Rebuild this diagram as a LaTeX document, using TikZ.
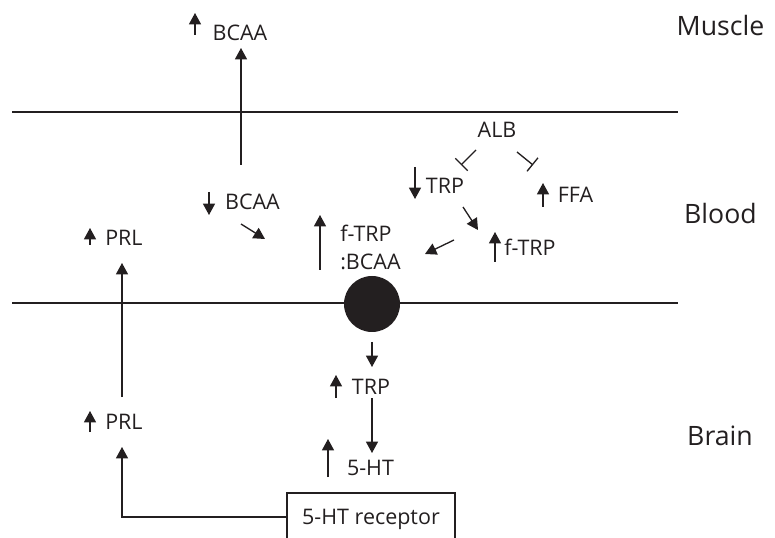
\documentclass[tikz,border=0pt]{standalone}
\usepackage{fontspec}
\setmainfont{Open Sans}
\usetikzlibrary{arrows.meta}
\definecolor{ink}{HTML}{231F20}
\begin{document}
\begin{tikzpicture}[x=0.75pt,y=-0.75pt,
  lbl/.style={font=\fontsize{16.1}{18}\selectfont, text=ink, inner sep=0pt, anchor=base},
  comp/.style={font=\fontsize{20}{24}\selectfont, text=ink, inner sep=0pt, anchor=base},
  arr/.style={draw=ink, line width=1pt, -{Triangle[length=8.5pt,width=9pt]}},
  inh/.style={draw=ink, line width=1pt, -{Bar[width=13pt]}},
  mem/.style={draw=ink, line width=1.1pt}]
\useasboundingbox (0,0) rectangle (775,538);

% membranes
\coordinate (m1l) at (12,112); \coordinate (m1r) at (678,112);
\coordinate (m2l) at (12,303); \coordinate (m2r) at (678,303);
\draw[mem] (m1l) -- (m1r);
\draw[mem] (m2l) -- (m2r);

% compartment labels
\node[comp] (muscle) at (720.5,36) {Muscle};
\node[comp] (blood)  at (720.5,224) {Blood};
\node[comp] (brain)  at (720,445) {Brain};

% text nodes
\node[lbl] (bcaaM) at (240,41) {BCAA};
\node[lbl] (bcaaB) at (252.5,209.5) {BCAA};
\node[lbl, anchor=base west] (ftrp1) at (340,242) {f-TRP};
\node[lbl, anchor=base west] (ftrp2) at (340,269.5) {:BCAA};
\node[lbl] (alb) at (497,137.5) {ALB};
\node[lbl] (trpB) at (445,194) {TRP};
\node[lbl] (ffa) at (575.5,202.5) {FFA};
\node[lbl, anchor=base west] (ftrpB) at (504,255.5) {f-TRP};
\node[lbl, anchor=base west] (prlB) at (105,245.5) {PRL};
\node[lbl, anchor=base west] (prlBr) at (105,429.5) {PRL};
\node[lbl] (trpBr) at (371,394.5) {TRP};
\node[lbl] (ht) at (370.5,475.5) {5-HT};
\node[lbl] (rec) at (371,524.5) {5-HT receptor};
\draw[draw=ink, line width=1pt] (287,545) -- (287,493) -- (455,493) -- (455,545);
\coordinate (recW) at (287,517);

% carrier
\node[circle, fill=ink, minimum size=56*0.75pt, inner sep=0pt] (carrier) at (372,304) {};

% indicator arrows
\coordinate (i1a) at (195,35);  \coordinate (i1b) at (195,13);
\coordinate (i2a) at (209,192); \coordinate (i2b) at (209,215);
\coordinate (i3a) at (320,270); \coordinate (i3b) at (320,215);
\coordinate (i4a) at (415,167); \coordinate (i4b) at (415,199);
\coordinate (i5a) at (543,207); \coordinate (i5b) at (543,183);
\coordinate (i6a) at (495,262); \coordinate (i6b) at (495,232);
\coordinate (i7a) at (90,245);  \coordinate (i7b) at (90,228);
\coordinate (i8a) at (90,432);  \coordinate (i8b) at (90,411);
\coordinate (i9a) at (336,398); \coordinate (i9b) at (336,375);
\coordinate (i10a) at (328,477); \coordinate (i10b) at (328,439);
\foreach \i in {1,...,10} \draw[arr] (i\i a) -- (i\i b);

% connectors
\coordinate (mus0) at (241,165); \coordinate (mus1) at (241,48);
\draw[arr] (mus0) -- (mus1);
\coordinate (d1a) at (241,224); \coordinate (d1b) at (265,239);
\draw[arr] (d1a) -- (d1b);
\coordinate (d2a) at (463,207); \coordinate (d2b) at (478,230);
\draw[arr] (d2a) -- (d2b);
\coordinate (d3a) at (454,240); \coordinate (d3b) at (425,254);
\draw[arr] (d3a) -- (d3b);
\coordinate (h1a) at (476,150); \coordinate (h1b) at (461,165);
\draw[inh] (h1a) -- (h1b);
\coordinate (h2a) at (517,152); \coordinate (h2b) at (533,165);
\draw[inh] (h2a) -- (h2b);
\coordinate (p1a) at (122,397); \coordinate (p1b) at (122,263);
\draw[arr] (p1a) -- (p1b);
\coordinate (p2b) at (122,447);
\draw[arr] (recW) -- (122,517) -- (p2b);
\coordinate (t1a) at (372,398); \coordinate (t1b) at (372,453);
\draw[arr] (t1a) -- (t1b);
\coordinate (c1a) at (372,342); \coordinate (c1b) at (372,367);
\draw[arr] (c1a) -- (c1b);
\end{tikzpicture}
\end{document}
